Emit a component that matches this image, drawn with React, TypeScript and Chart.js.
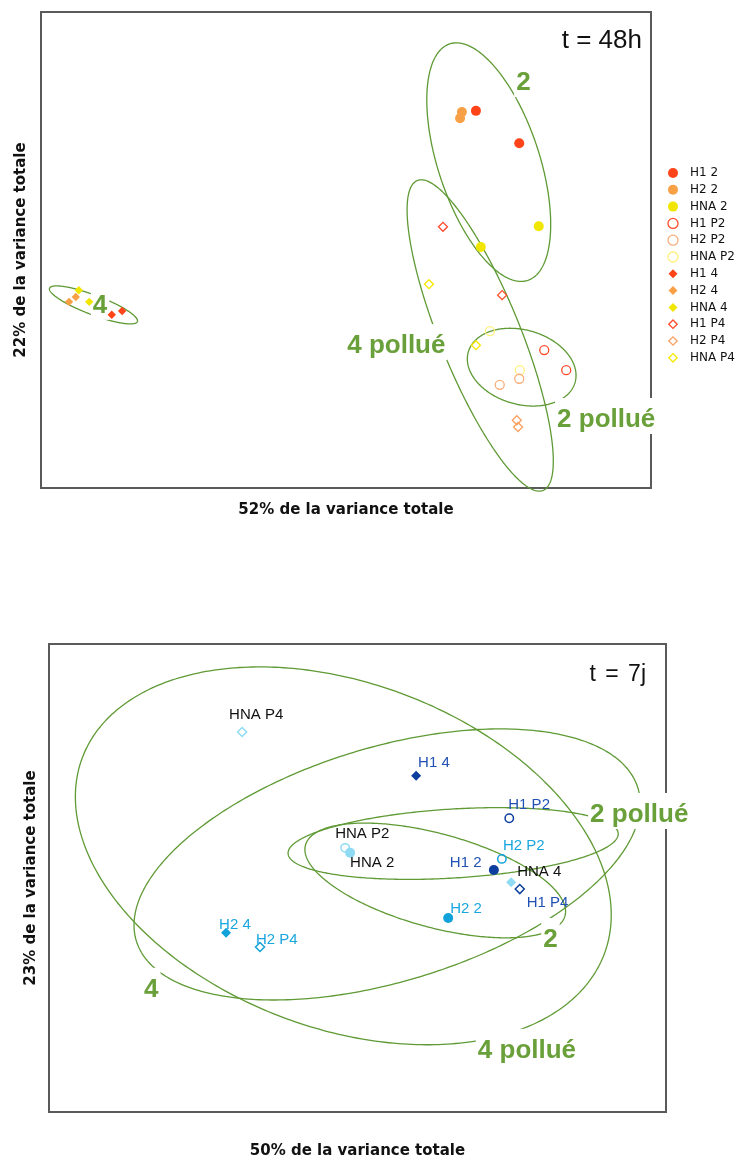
import React, { useEffect, useRef } from 'react';
import { Chart, registerables } from 'chart.js';

Chart.register(...registerables);

// ---------- shared series names ----------
const SERIES = ['H1 2', 'H2 2', 'HNA 2', 'H1 P2', 'H2 P2', 'HNA P2', 'H1 4', 'H2 4', 'HNA 4', 'H1 P4', 'H2 P4', 'HNA P4'];
const SHAPES = ['circle', 'circle', 'circle', 'circle', 'circle', 'circle', 'rectRot', 'rectRot', 'rectRot', 'rectRot', 'rectRot', 'rectRot'];
const FILLED = [true, true, true, false, false, false, true, true, true, false, false, false];

// ---------- t = 48h (top) ----------
const TOP_TITLE = 't = 48h';
const TOP_X_TITLE = '52% de la variance totale';
const TOP_Y_TITLE = '22% de la variance totale';
const TOP_X = [[2.13, 2.84], [1.90, 1.87], [3.16, 2.21], [3.25, 3.61], [2.52, 2.84], [2.85, 2.36], [-3.84, -3.67], [-4.54, -4.43], [-4.38, -4.21], [1.59, 2.56], [2.80, 2.82], [1.36, 2.13]];
const TOP_Y = [[2.28, 1.75], [2.26, 2.16], [0.39, 0.05], [-1.64, -1.97], [-2.21, -2.11], [-1.97, -1.33], [-1.06, -1.00], [-0.85, -0.77], [-0.66, -0.85], [0.38, -0.74], [-2.79, -2.90], [-0.56, -1.56]];
const TOP_COLORS = ['#FF4419', '#F7A046', '#F0E600', '#FF4A2A', '#F9AE7A', '#FFF07A', '#FF4419', '#F7A046', '#F0E600', '#FF4A2A', '#F9A060', '#F5E800'];

const TOP_GROUPS = ['2', '4 pollué', '2 pollué', '4'];
const TOP_ELL_CX = [2.34, 2.20, 2.88, -4.14];
const TOP_ELL_CY = [1.44, -1.40, -1.92, -0.90];
const TOP_ELL_A = [2.04, 2.74, 0.91, 0.77];
const TOP_ELL_B = [0.83, 0.66, 0.61, 0.16];
const TOP_ELL_ANGLE = [-71.7, -67.9, -15.9, -20.8];
const TOP_GROUP_LX = [2.79, 0.02, 3.46, -4.15];
const TOP_GROUP_LY = [2.62, -1.69, -2.90, -1.03];

// ---------- t = 7j (bottom) ----------
const BOT_TITLE = 't = 7j';
const BOT_X_TITLE = '50% de la variance totale';
const BOT_Y_TITLE = '23% de la variance totale';
const BOT_X = [2.21, 1.47, -0.12, 2.46, 2.34, -0.20, 0.95, -2.13, 2.49, 2.63, -1.58, -1.87];
const BOT_Y = [0.13, -0.65, 0.41, 0.97, 0.31, 0.49, 1.66, -0.89, -0.07, -0.18, -1.12, 2.37];
const BOT_COLORS = ['#0B3E9E', '#12A2DA', '#8FDBF4', '#0B3E9E', '#12A2DA', '#8FDBF4', '#0B3E9E', '#12A2DA', '#8FDBF4', '#0B3E9E', '#12A2DA', '#8FDBF4'];
const BOT_TEXT_COLORS = ['#2151B3', '#1AA6DE', '#111111', '#2151B3', '#1AA6DE', '#111111', '#2151B3', '#1AA6DE', '#111111', '#2151B3', '#1AA6DE', '#111111'];
const BOT_LABEL_DX = [-44, 2, 0, -1, 1, -10, 2, -7, 6, 7, -4, -13];
const BOT_LABEL_DY = [-3, -5, 14, -9, -9, -10, -9, -4, -6, 18, -3, -13];

const BOT_GROUPS = ['4 pollué', '4', '2 pollué', '2'];
const BOT_ELL_CX = [-0.23, 0.48, 1.55, 1.26];
const BOT_ELL_CY = [0.36, 0.22, 0.56, -0.04];
const BOT_ELL_A = [4.52, 4.25, 2.68, 2.18];
const BOT_ELL_B = [2.80, 1.90, 0.56, 0.76];
const BOT_ELL_ANGLE = [-20.7, 17.0, 3.5, -15.3];
const BOT_GROUP_LX = [1.95, -3.46, 3.77, 3.01];
const BOT_GROUP_LY = [-2.92, -1.93, 0.91, -1.12];

const GREEN_TEXT = '#6AA03A';
const GREEN_LINE = '#5F9A35';
const FRAME = '#5a5a5a';

function drawEllipse(chart: any, cx: number, cy: number, a: number, b: number, angDeg: number) {
  const xs = chart.scales.x, ys = chart.scales.y;
  const th = (angDeg * Math.PI) / 180;
  const ctx = chart.ctx;
  ctx.beginPath();
  for (let k = 0; k <= 360; k++) {
    const t = (k * Math.PI) / 180;
    const dx = a * Math.cos(t) * Math.cos(th) - b * Math.sin(t) * Math.sin(th);
    const dy = a * Math.cos(t) * Math.sin(th) + b * Math.sin(t) * Math.cos(th);
    const px = xs.getPixelForValue(cx + dx);
    const py = ys.getPixelForValue(cy + dy);
    if (k === 0) ctx.moveTo(px, py);
    else ctx.lineTo(px, py);
  }
  ctx.closePath();
  ctx.stroke();
}

function drawGroupLabel(chart: any, text: string, x: number, y: number) {
  const ctx = chart.ctx;
  const px = chart.scales.x.getPixelForValue(x);
  const py = chart.scales.y.getPixelForValue(y);
  ctx.font = 'bold 26px "Liberation Sans", Arial, sans-serif';
  ctx.textAlign = 'left';
  ctx.textBaseline = 'alphabetic';
  const w = ctx.measureText(text).width;
  ctx.fillStyle = '#ffffff';
  ctx.fillRect(px - 2, py - 29, w + 4, 36);
  ctx.fillStyle = GREEN_TEXT;
  ctx.fillText(text, px, py);
}

function drawMarker(ctx: any, shape: string, x: number, y: number, r: number, filled: boolean, color: string, lw: number) {
  ctx.beginPath();
  if (shape === 'circle') {
    ctx.arc(x, y, r, 0, Math.PI * 2);
  } else {
    ctx.moveTo(x - r, y);
    ctx.lineTo(x, y - r);
    ctx.lineTo(x + r, y);
    ctx.lineTo(x, y + r);
    ctx.closePath();
  }
  if (filled) {
    ctx.fillStyle = color;
    ctx.fill();
  } else {
    ctx.strokeStyle = color;
    ctx.lineWidth = lw;
    ctx.stroke();
  }
}

function decorPlugin(cfg: any) {
  return {
    id: 'decor_' + cfg.id,
    beforeDatasetsDraw(chart: any) {
      const ctx = chart.ctx;
      const ca = chart.chartArea;
      ctx.save();
      // frame
      ctx.strokeStyle = FRAME;
      ctx.lineWidth = 2;
      ctx.strokeRect(ca.left, ca.top, ca.right - ca.left, ca.bottom - ca.top);
      // ellipses
      ctx.strokeStyle = GREEN_LINE;
      ctx.lineWidth = 1.3;
      for (let i = 0; i < cfg.groups.length; i++) {
        drawEllipse(chart, cfg.cx[i], cfg.cy[i], cfg.a[i], cfg.b[i], cfg.ang[i]);
      }
      // group labels
      for (let i = 0; i < cfg.groups.length; i++) {
        drawGroupLabel(chart, cfg.groups[i], cfg.lx[i], cfg.ly[i]);
      }
      // title
      ctx.font = cfg.titleFont;
      ctx.fillStyle = '#111';
      ctx.textAlign = 'right';
      ctx.textBaseline = 'alphabetic';
      if (cfg.wordSpacing) (ctx as any).wordSpacing = cfg.wordSpacing;
      ctx.fillText(cfg.title, ca.right - cfg.titleDx, ca.top + cfg.titleDy);
      if (cfg.wordSpacing) (ctx as any).wordSpacing = '0px';
      ctx.restore();
    },
    afterDatasetsDraw(chart: any) {
      const ctx = chart.ctx;
      const ca = chart.chartArea;
      ctx.save();
      if (cfg.pointLabels) {
        ctx.font = '15px "Liberation Sans", Arial, sans-serif';
        ctx.textAlign = 'left';
        ctx.textBaseline = 'alphabetic';
        chart.data.datasets.forEach((ds: any, i: number) => {
          const el = chart.getDatasetMeta(i).data[0];
          if (!el) return;
          ctx.fillStyle = cfg.labelColors[i];
          ctx.fillText(ds.label, el.x + cfg.labelDx[i], el.y + cfg.labelDy[i]);
        });
      }
      if (cfg.legend) {
        ctx.font = '12px "DejaVu Sans", Verdana, sans-serif';
        ctx.textBaseline = 'middle';
        ctx.textAlign = 'left';
        chart.data.datasets.forEach((ds: any, i: number) => {
          const y = ca.top + 161 + i * 16.8;
          const mx = ca.right + 22;
          const filled = FILLED[i];
          const r = ds.pointStyle === 'circle' ? 5 : filled ? 4.5 : 4.2;
          drawMarker(ctx, ds.pointStyle, mx, y, r, filled, ds.borderColor, 1.3);
          ctx.fillStyle = '#111';
          ctx.fillText(ds.label, ca.right + 39, y);
        });
      }
      ctx.restore();
    },
  };
}

const titleFont = { family: '"DejaVu Sans", Verdana, sans-serif', size: 15, weight: 'bold' as const };

function buildTop(): any {
  const datasets = SERIES.map((name, i) => ({
    label: name,
    data: TOP_X[i].map((x, k) => ({ x, y: TOP_Y[i][k] })),
    pointStyle: SHAPES[i],
    pointRadius: SHAPES[i] === 'circle' ? (FILLED[i] ? 5 : 4.5) : FILLED[i] ? 4.2 : 4.5,
    backgroundColor: FILLED[i] ? TOP_COLORS[i] : 'rgba(0,0,0,0)',
    borderColor: TOP_COLORS[i],
    borderWidth: FILLED[i] ? 0 : 1.3,
    showLine: false,
  }));
  return {
    type: 'scatter',
    data: { datasets },
    options: {
      animation: false,
      responsive: false,
      events: [],
      layout: { padding: { top: 12, right: 88, bottom: 0, left: 0 } },
      plugins: { legend: { display: false }, tooltip: { enabled: false } },
      scales: {
        x: {
          type: 'linear', min: -5, max: 5,
          ticks: { display: false }, grid: { display: false, drawTicks: false }, border: { display: false },
          title: { display: true, text: TOP_X_TITLE, font: titleFont, color: '#111', padding: { top: 13.5, bottom: 10.5 } },
        },
        y: {
          type: 'linear', min: -3.9, max: 3.9,
          ticks: { display: false }, grid: { display: false, drawTicks: false }, border: { display: false },
          title: { display: true, text: TOP_Y_TITLE, font: titleFont, color: '#111', padding: { top: 12.5, bottom: 10.5 } },
        },
      },
    },
    plugins: [
      decorPlugin({
        id: 'top', groups: TOP_GROUPS, cx: TOP_ELL_CX, cy: TOP_ELL_CY, a: TOP_ELL_A, b: TOP_ELL_B, ang: TOP_ELL_ANGLE,
        lx: TOP_GROUP_LX, ly: TOP_GROUP_LY, title: TOP_TITLE, titleFont: '26px "Liberation Sans", Arial, sans-serif',
        titleDx: 9, titleDy: 36, legend: true, pointLabels: false,
      }),
    ],
  };
}

function buildBottom(): any {
  const datasets = SERIES.map((name, i) => ({
    label: name,
    data: [{ x: BOT_X[i], y: BOT_Y[i] }],
    pointStyle: SHAPES[i],
    pointRadius: SHAPES[i] === 'circle' ? (FILLED[i] ? 5 : 4.2) : FILLED[i] ? 5 : 4.5,
    backgroundColor: FILLED[i] ? BOT_COLORS[i] : 'rgba(0,0,0,0)',
    borderColor: BOT_COLORS[i],
    borderWidth: FILLED[i] ? 0 : 1.5,
    showLine: false,
  }));
  return {
    type: 'scatter',
    data: { datasets },
    options: {
      animation: false,
      responsive: false,
      events: [],
      layout: { padding: { top: 44, right: 73, bottom: 0, left: 0 } },
      plugins: { legend: { display: false }, tooltip: { enabled: false } },
      scales: {
        x: {
          type: 'linear', min: -5, max: 5,
          ticks: { display: false }, grid: { display: false, drawTicks: false }, border: { display: false },
          title: { display: true, text: BOT_X_TITLE, font: titleFont, color: '#111', padding: { top: 30, bottom: 0 } },
        },
        y: {
          type: 'linear', min: -3.8, max: 3.8,
          ticks: { display: false }, grid: { display: false, drawTicks: false }, border: { display: false },
          title: { display: true, text: BOT_Y_TITLE, font: titleFont, color: '#111', padding: { top: 22.5, bottom: 8.5 } },
        },
      },
    },
    plugins: [
      decorPlugin({
        id: 'bot', groups: BOT_GROUPS, cx: BOT_ELL_CX, cy: BOT_ELL_CY, a: BOT_ELL_A, b: BOT_ELL_B, ang: BOT_ELL_ANGLE,
        lx: BOT_GROUP_LX, ly: BOT_GROUP_LY, title: BOT_TITLE, titleFont: '23px "Liberation Sans", Arial, sans-serif',
        wordSpacing: '3px', titleDx: 20, titleDy: 37, legend: false, pointLabels: true,
        labelColors: BOT_TEXT_COLORS, labelDx: BOT_LABEL_DX, labelDy: BOT_LABEL_DY,
      }),
    ],
  };
}

function ChartCanvas({ build, width, height, top }: { build: () => any; width: number; height: number; top: number }) {
  const ref = useRef<HTMLCanvasElement | null>(null);
  useEffect(() => {
    if (!ref.current) return;
    const chart = new Chart(ref.current, build());
    return () => chart.destroy();
  }, [build]);
  return (
    <canvas
      ref={ref}
      width={width}
      height={height}
      style={{ position: 'absolute', left: 0, top, width, height, display: 'block' }}
    />
  );
}

export default function App() {
  return (
    <div style={{ position: 'absolute', left: 0, top: 0, width: 739, height: 1160, background: '#fff', overflow: 'hidden' }}>
      <ChartCanvas build={buildTop} width={739} height={530} top={0} />
      <ChartCanvas build={buildBottom} width={739} height={560} top={600} />
    </div>
  );
}
